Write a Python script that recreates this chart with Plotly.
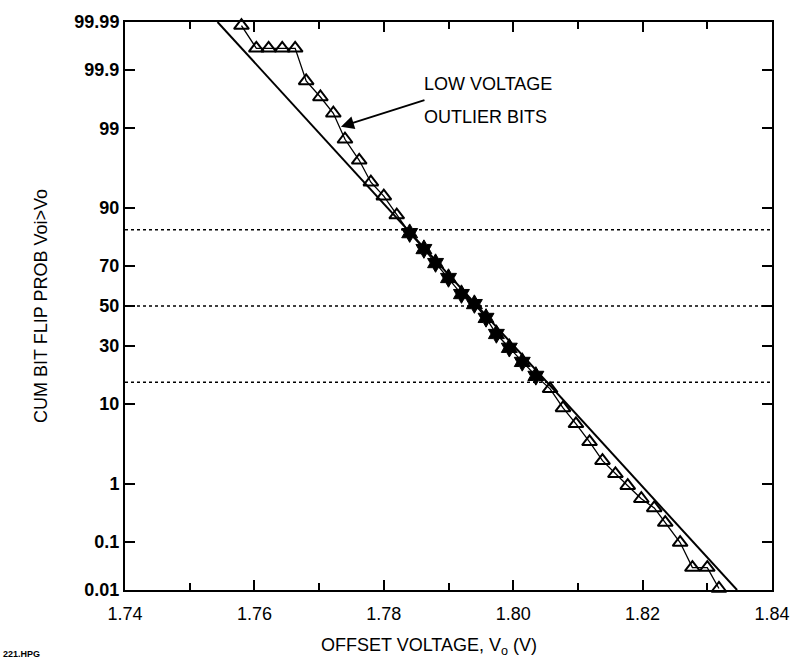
import plotly.graph_objects as go
from statistics import NormalDist

nd = NormalDist()


def zq(p):
    return nd.inv_cdf(p / 100.0)


# ---- data (offset voltage V, cumulative probability %) ----
top_v = [1.7580, 1.7603, 1.7622, 1.7643, 1.7663, 1.7680, 1.7702, 1.7722,
         1.7740, 1.7762, 1.7780, 1.7800, 1.7820]
top_p = [99.988, 99.963, 99.963, 99.963, 99.963, 99.84, 99.69, 99.42,
         98.55, 97.18, 94.75, 92.48, 88.3]

mid_v = [1.7840, 1.7862, 1.7880, 1.7900, 1.7920, 1.7940, 1.7958, 1.7974,
         1.7994, 1.8014, 1.8035]
mid_p = [83.0, 77.2, 71.3, 64.3, 56.2, 51.0, 43.8, 35.7, 29.2, 23.2, 18.0]

bot_v = [1.8057, 1.8077, 1.8097, 1.8118, 1.8138, 1.8158, 1.8177, 1.8198,
         1.8218, 1.8235, 1.8258, 1.8277, 1.8300, 1.8318]
bot_p = [13.9, 9.1, 6.15, 3.77, 2.14, 1.40, 0.93, 0.58, 0.41, 0.228,
         0.0975, 0.0307, 0.0307, 0.0108]

fit_v = [1.7543, 1.8346]
fit_p = [99.99, 0.01]

sigma_p = [84.13, 50.0, 15.87]

y_tick_p = [0.01, 0.1, 1, 10, 30, 50, 70, 90, 99, 99.9, 99.99]
y_tick_txt = ["0.01", "0.1", "1", "10", "30", "50", "70", "90", "99", "99.9", "99.99"]

FONT = "Liberation Sans"

fig = go.Figure()

# fitted straight line
fig.add_trace(go.Scatter(x=fit_v, y=[zq(p) for p in fit_p], mode="lines",
                         line=dict(color="black", width=2), cliponaxis=True,
                         showlegend=False, hoverinfo="skip"))

all_v = top_v + mid_v + bot_v
all_p = top_p + mid_p + bot_p
fig.add_trace(go.Scatter(x=all_v, y=[zq(p) for p in all_p], mode="lines",
                         line=dict(color="black", width=1.3),
                         showlegend=False, hoverinfo="skip"))

fig.add_trace(go.Scatter(x=top_v + bot_v, y=[zq(p) for p in top_p + bot_p],
                         mode="markers", cliponaxis=False,
                         marker=dict(symbol="triangle-up-open", size=13, color="black",
                                     line=dict(width=2, color="black")),
                         showlegend=False))

fig.add_trace(go.Scatter(x=mid_v, y=[zq(p) for p in mid_p], mode="markers",
                         marker=dict(symbol="hexagram", size=14, color="black",
                                     line=dict(width=1, color="black")),
                         showlegend=False))

for p in sigma_p:
    fig.add_shape(type="line", xref="paper", x0=0, x1=1, yref="y",
                  y0=zq(p), y1=zq(p), line=dict(color="black", width=1.5, dash="dot"))

fig.add_annotation(xref="paper", yref="paper", x=0.4585, y=0.891, xanchor="left",
                   yanchor="middle", text="LOW VOLTAGE", showarrow=False,
                   font=dict(family=FONT, size=18, color="black"))
fig.add_annotation(xref="paper", yref="paper", x=0.4585, y=0.833, xanchor="left",
                   yanchor="middle", text="OUTLIER BITS", showarrow=False,
                   font=dict(family=FONT, size=18, color="black"))
fig.add_annotation(xref="paper", yref="paper", x=0.3338, y=0.8158, text="",
                   showarrow=True, ax=85, ay=-27, arrowhead=2, arrowsize=1.3,
                   arrowwidth=2, arrowcolor="black")

fig.add_annotation(xref="paper", yref="paper", x=-0.13, y=0.5, text="CUM BIT FLIP PROB Voi>Vo",
                   textangle=-90, showarrow=False, xanchor="center", yanchor="middle",
                   font=dict(family=FONT, size=18, color="black"))
fig.add_annotation(xref="paper", yref="paper", x=0.47, y=-0.1, text="OFFSET VOLTAGE, V<sub>o</sub> (V)",
                   showarrow=False, xanchor="center", yanchor="middle",
                   font=dict(family=FONT, size=18, color="black"))
fig.add_annotation(xref="paper", yref="paper", x=-0.192, y=-0.113, text="221.HPG",
                   showarrow=False, xanchor="left", yanchor="middle",
                   font=dict(family=FONT, size=9, color="black", weight="bold"))

fig.update_xaxes(range=[1.74, 1.84], tick0=1.74, dtick=0.02, tickformat=".2f",
                 ticks="inside", ticklen=10, tickwidth=2, tickcolor="black",
                 minor=dict(dtick=0.01, tick0=1.74, ticks="inside", ticklen=7,
                            tickwidth=2, tickcolor="black", showgrid=False),
                 showline=True, linewidth=2, linecolor="black", mirror="ticks",
                 showgrid=False, zeroline=False, ticklabelstandoff=6,
                 tickfont=dict(family=FONT, size=18, color="black"))
fig.update_yaxes(range=[zq(0.01), zq(99.99)], tickmode="array",
                 tickvals=[zq(p) for p in y_tick_p], ticktext=y_tick_txt,
                 ticks="inside", ticklen=10, tickwidth=2, tickcolor="black",
                 showline=True, linewidth=2, linecolor="black", mirror="ticks",
                 showgrid=False, zeroline=False,
                 tickfont=dict(family=FONT, size=18, color="black", weight="bold"))

fig.update_layout(width=802, height=666, paper_bgcolor="white", plot_bgcolor="white",
                  margin=dict(l=125, r=27, t=20, b=76), showlegend=False)

fig.write_html("out.html")
